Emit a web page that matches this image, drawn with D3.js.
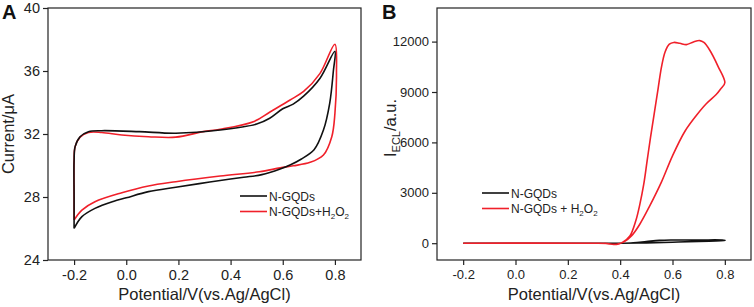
<!DOCTYPE html>
<html>
<head>
<meta charset="utf-8">
<script src="https://cdn.jsdelivr.net/npm/d3@7"></script>
<style>
  body { margin: 0; background: #fff; }
  svg { display: block; font-family: "Liberation Sans", Arial, sans-serif; }
</style>
</head>
<body>
<svg width="754" height="307"></svg>
<script>
// ---- data ----
// Panel A: cyclic voltammograms, [potential V, current uA], in scan order
var cvBlack = [
    [-0.2, 26.0], [-0.17, 26.75], [-0.12, 27.28], [-0.05, 27.72], [0.0, 27.95],
    [0.085, 28.34], [0.19, 28.62], [0.28, 28.85], [0.36, 29.05], [0.45, 29.25],
    [0.52, 29.42], [0.59, 29.78], [0.63, 30.05], [0.67, 30.4], [0.72, 31.0],
    [0.756, 32.25], [0.78, 33.95], [0.794, 36.0], [0.8, 37.25],
    [0.743, 35.54], [0.68, 34.4], [0.64, 33.9], [0.6, 33.6], [0.55, 33.0],
    [0.5, 32.63], [0.36, 32.25], [0.19, 32.05], [0.05, 32.15], [-0.094, 32.21],
    [-0.145, 32.15], [-0.177, 31.83], [-0.196, 31.2], [-0.2, 30.3], [-0.2, 28.0],
    [-0.2, 26.0]
];
var cvRed = [
    [-0.2, 26.54], [-0.17, 27.17], [-0.12, 27.7], [-0.017, 28.27], [0.085, 28.7],
    [0.19, 28.97], [0.36, 29.33], [0.51, 29.6], [0.59, 29.85], [0.64, 29.98],
    [0.705, 30.2], [0.756, 30.67], [0.788, 31.83], [0.8, 33.3], [0.806, 35.85],
    [0.8, 37.7],
    [0.743, 35.85], [0.68, 34.7], [0.628, 34.16], [0.551, 33.4], [0.49, 32.8],
    [0.36, 32.3], [0.295, 32.15], [0.19, 31.8], [0.085, 31.83], [-0.017, 31.94],
    [-0.094, 32.1], [-0.145, 32.1], [-0.177, 31.8], [-0.196, 31.2], [-0.2, 30.3],
    [-0.2, 28.0], [-0.2, 26.54]
];
// Panel B: ECL intensity, [potential V, a.u.]
var eclBlack = [
    [-0.2, 0], [0.4, 0], [0.5, 20], [0.6, 60], [0.7, 110], [0.8, 160],
    [0.8, 175], [0.7, 190], [0.6, 190], [0.55, 170], [0.5, 100], [0.45, 30], [0.4, 0]
];
var eclRed = [
    [-0.2, 0], [0.3, 0], [0.35, -20], [0.375, -80], [0.395, -40], [0.41, 60],
    [0.437, 430], [0.46, 1350], [0.475, 2300], [0.49, 3500], [0.503, 4900],
    [0.516, 6300], [0.53, 7700], [0.545, 9200], [0.558, 10500], [0.572, 11400],
    [0.588, 11850], [0.605, 11950], [0.628, 11900], [0.653, 11820], [0.68, 11980],
    [0.704, 12060], [0.72, 11950], [0.742, 11500], [0.774, 10530], [0.8, 9550],
    [0.785, 9200], [0.767, 8850], [0.729, 8300], [0.691, 7600], [0.647, 6650],
    [0.6, 5200], [0.558, 3650], [0.513, 2220], [0.475, 1130],
    [0.443, 430], [0.415, 80], [0.39, -50], [0.37, -60], [0.34, 0]
];
var xTicks = [-0.2, 0.0, 0.2, 0.4, 0.6, 0.8];
var yTicksA = [24, 28, 32, 36, 40];
var yTicksB = [0, 3000, 6000, 9000, 12000];

var RED = '#f0202a';
var BLACK = '#111';
var svg = d3.select('svg');

function drawPanel(opt) {
    var g = svg.append('g');
    var xScale = d3.scaleLinear().domain([-0.3, 0.9]).range([opt.left, opt.right]);
    var yScale = d3.scaleLinear().domain(opt.yDomain).range([opt.bottom, opt.top]);

    // series lines (drawn in opt.drawOrder)
    var line = d3.line()
        .x(function(d) { return xScale(d[0]); })
        .y(function(d) { return yScale(d[1]); })
        .curve(d3.curveCatmullRom.alpha(0.5));
    opt.drawOrder.forEach(function(i) {
        var s = opt.series[i];
        g.append('path')
            .attr('d', line(s.data))
            .attr('fill', 'none')
            .attr('stroke', s.color)
            .attr('stroke-width', 1.6)
            .attr('stroke-linejoin', 'round');
    });

    // frame
    g.append('rect')
        .attr('x', opt.left).attr('y', opt.top)
        .attr('width', opt.right - opt.left).attr('height', opt.bottom - opt.top)
        .attr('fill', 'none').attr('stroke', '#222').attr('stroke-width', 1.2);

    // axes
    var xAxis = g.append('g')
        .attr('transform', 'translate(0,' + opt.bottom + ')')
        .call(d3.axisBottom(xScale).tickValues(xTicks).tickSize(5).tickPadding(5)
            .tickFormat(function(d) { return d3.format('.1f')(d).replace('\u2212', '-'); }));
    var yAxis = g.append('g')
        .attr('transform', 'translate(' + opt.left + ',0)')
        .call(d3.axisLeft(yScale).tickValues(opt.yTicks).tickSize(5).tickPadding(3)
            .tickFormat(d3.format('d')));
    [xAxis, yAxis].forEach(function(a) {
        a.select('.domain').remove();
        a.selectAll('line').attr('stroke', '#222').attr('stroke-width', 1.2);
        a.selectAll('text').attr('fill', '#222')
            .style('font-size', opt.tickFont + 'px')
            .style('font-family', '"Liberation Sans", Arial, sans-serif');
    });

    // x title
    g.append('text')
        .attr('x', (opt.left + opt.right) / 2).attr('y', 300)
        .attr('text-anchor', 'middle').style('font-size', '16.5px').attr('fill', '#222')
        .text('Potential/V(vs.Ag/AgCl)');

    // panel letter
    g.append('text')
        .attr('x', opt.letterX).attr('y', 19)
        .style('font-size', '20px').style('font-weight', 'bold').attr('fill', '#111')
        .text(opt.letter);

    // legend
    opt.series.forEach(function(s, i) {
        var ly = opt.legendY + i * 15.5;
        g.append('line')
            .attr('x1', opt.legendX).attr('x2', opt.legendX + 27)
            .attr('y1', ly).attr('y2', ly)
            .attr('stroke', s.color).attr('stroke-width', 1.6);
        var t = g.append('text')
            .attr('x', opt.legendX + 29).attr('y', ly + 4.5)
            .style('font-size', '12px').attr('fill', '#222');
        s.label(t);
    });
    return g;
}

function subLabel(prefix) {
    return function(t) {
        t.append('tspan').text(prefix + 'H');
        t.append('tspan').attr('dy', 3).style('font-size', '8px').text('2');
        t.append('tspan').attr('dy', -3).text('O');
        t.append('tspan').attr('dy', 3).style('font-size', '8px').text('2');
    };
}
function plainLabel(s) { return function(t) { t.text(s); }; }

drawPanel({
    left: 48, right: 361, top: 8, bottom: 260,
    yDomain: [24, 40], yTicks: yTicksA, tickFont: 14.5,
    letter: 'A', letterX: 2, legendX: 240, legendY: 196,
    series: [
        {data: cvBlack, color: BLACK, label: plainLabel('N-GQDs')},
        {data: cvRed, color: RED, label: subLabel('N-GQDs+')}
    ],
    drawOrder: [1, 0]
});

drawPanel({
    left: 437, right: 751, top: 8, bottom: 260,
    yDomain: [-1000, 14000], yTicks: yTicksB, tickFont: 13,
    letter: 'B', letterX: 382, legendX: 482, legendY: 193,
    series: [
        {data: eclBlack, color: BLACK, label: plainLabel('N-GQDs')},
        {data: eclRed, color: RED, label: subLabel('N-GQDs + ')}
    ],
    drawOrder: [0, 1]
});

// y titles
svg.append('text')
    .attr('transform', 'translate(14,134) rotate(-90)')
    .attr('text-anchor', 'middle').style('font-size', '16.5px').attr('fill', '#222')
    .text('Current/\u03bcA');

var yt = svg.append('text')
    .attr('transform', 'translate(396,128) rotate(-90)')
    .attr('text-anchor', 'middle').style('font-size', '16.5px').attr('fill', '#222');
yt.append('tspan').text('I');
yt.append('tspan').attr('dy', 4).style('font-size', '11px').text('ECL');
yt.append('tspan').attr('dy', -4).text('/a.u.');
</script>
</body>
</html>
